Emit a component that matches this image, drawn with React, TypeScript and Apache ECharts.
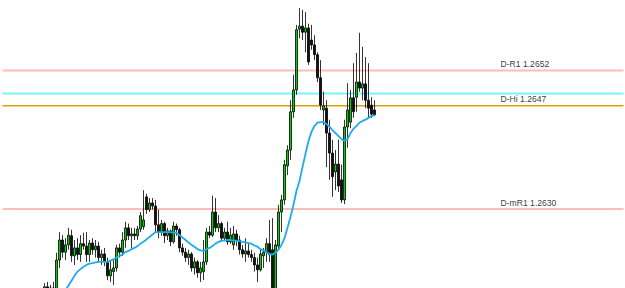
import { useEffect, useRef } from "react";
import * as echarts from "echarts";

// Prices are stored in pips above 1.2600 (e.g. 52.4 -> 1.26524)
const BASE_PRICE = 1.26;

const openPips = [
  16.0, 16.8, 16.1, 16.6, 16.0, 21.2, 24.5, 22.5, 23.7, 25.2,
  21.9, 23.2, 22.1, 23.9, 23.5, 22.1, 24.0, 22.9, 23.5, 21.6,
  22.2, 20.9, 18.6, 19.3, 19.9, 23.2, 22.5, 24.5, 26.5, 25.2,
  25.5, 25.2, 26.3, 26.7, 31.6, 29.5, 30.6, 30.1, 27.0, 25.8,
  27.2, 25.2, 26.0, 24.2, 26.8, 26.2, 23.2, 22.5, 21.6, 22.2,
  19.9, 20.9, 19.1, 19.3, 20.9, 25.8, 25.3, 29.1, 26.5, 27.2,
  24.8, 25.8, 24.2, 23.7, 25.5, 24.5, 22.9, 22.2, 22.7, 22.1,
  21.6, 20.4, 19.6, 21.9, 22.5, 23.9, 22.9, 16.3, 23.5, 29.1,
  31.1, 36.7, 39.3, 45.6, 49.2, 59.2, 59.7, 58.7, 59.4, 57.4,
  56.6, 55.0, 51.2, 45.9, 46.2, 42.1, 38.8, 35.7, 37.0, 34.4,
  31.1, 43.1, 43.9, 47.9, 48.0, 50.5, 49.5, 50.2, 47.5, 46.7, 45.9,
];
const highPips = [
  17.4, 17.6, 17.1, 17.6, 22.4, 25.8, 25.3, 24.8, 26.5, 26.2,
  24.5, 24.8, 25.3, 25.7, 25.8, 24.5, 24.8, 24.5, 24.2, 22.9,
  23.2, 21.6, 21.2, 21.2, 23.7, 23.9, 25.8, 27.5, 27.2, 26.5,
  26.5, 26.8, 29.1, 32.7, 32.1, 31.4, 31.4, 31.1, 29.5, 27.8,
  27.5, 26.5, 26.2, 27.5, 27.2, 26.5, 23.9, 23.2, 22.9, 22.5,
  21.6, 21.2, 20.9, 24.5, 26.5, 26.8, 31.8, 31.4, 28.6, 27.5,
  26.5, 27.5, 26.5, 26.8, 26.2, 25.2, 23.7, 24.8, 23.9, 22.9,
  22.4, 21.6, 22.9, 23.2, 24.8, 27.8, 28.1, 24.5, 30.3, 31.9,
  37.7, 40.1, 47.5, 51.7, 59.9, 62.7, 62.4, 62.0, 60.1, 59.9,
  58.2, 55.4, 54.1, 48.9, 47.5, 44.3, 41.0, 39.3, 41.0, 36.9,
  44.3, 50.3, 49.2, 53.6, 55.3, 58.6, 56.3, 54.6, 53.6, 48.0, 47.5,
];
const lowPips = [
  15.0, 15.5, 14.6, 15.3, 15.5, 19.9, 21.6, 21.2, 22.9, 20.9,
  20.4, 21.2, 20.9, 22.9, 20.9, 20.9, 22.1, 21.6, 20.9, 20.4,
  20.2, 17.9, 17.6, 17.1, 19.3, 21.6, 21.9, 23.2, 24.5, 23.2,
  24.5, 24.5, 25.8, 26.2, 28.8, 29.1, 29.5, 25.8, 24.8, 25.2,
  24.0, 24.5, 23.5, 23.9, 25.2, 22.5, 21.9, 20.9, 20.4, 19.3,
  18.8, 18.3, 17.6, 17.9, 20.4, 24.8, 25.0, 25.8, 25.8, 24.2,
  24.5, 23.7, 23.9, 22.9, 23.5, 22.1, 21.6, 20.9, 21.6, 20.9,
  19.3, 17.6, 19.3, 19.9, 20.9, 20.9, 14.6, 15.0, 22.9, 25.8,
  30.3, 35.2, 37.7, 44.6, 48.4, 57.7, 57.4, 55.4, 53.3, 55.8,
  54.1, 50.5, 45.9, 43.4, 36.5, 34.4, 31.6, 32.7, 32.4, 30.6,
  30.4, 39.7, 42.9, 44.6, 45.6, 48.9, 47.5, 46.2, 44.6, 44.6, 44.9,
];
const closePips = [
  16.8, 16.1, 16.6, 16.3, 21.2, 24.5, 22.5, 23.7, 25.3, 21.9,
  23.2, 22.1, 23.9, 23.5, 22.1, 24.0, 22.9, 23.5, 21.6, 22.2,
  20.9, 18.6, 19.6, 19.9, 23.2, 22.5, 24.5, 26.5, 25.2, 25.5,
  25.2, 26.3, 28.5, 27.8, 29.5, 30.6, 30.1, 27.0, 25.8, 27.2,
  25.2, 26.0, 24.2, 26.8, 26.2, 23.2, 22.5, 21.6, 22.2, 19.9,
  20.9, 19.1, 19.9, 20.9, 25.8, 25.3, 29.1, 26.5, 27.2, 24.8,
  25.8, 24.2, 25.3, 25.5, 24.5, 22.9, 22.2, 22.7, 22.1, 21.6,
  20.4, 19.6, 22.2, 22.5, 23.9, 22.1, 16.3, 23.7, 29.1, 31.1,
  36.9, 39.3, 45.6, 49.2, 59.1, 59.7, 58.7, 59.4, 53.8, 56.6,
  55.0, 51.2, 46.7, 46.6, 42.1, 38.8, 34.9, 37.0, 33.4, 31.1,
  43.1, 45.9, 47.9, 45.6, 50.5, 49.5, 50.2, 47.5, 46.2, 45.2, 45.1,
];
const maPips = [
  null, null, null, null, null, 15.0, 15.6, 16.3, 17.0, 17.8,
  18.6, 19.3, 19.7, 20.1, 20.4, 20.6, 20.7, 20.8, 20.9, 20.9,
  20.9, 20.9, 21.1, 21.3, 21.6, 21.9, 22.1, 22.5, 22.7, 23.0,
  23.2, 23.5, 23.9, 24.2, 24.6, 25.0, 25.4, 25.8, 25.8, 25.8,
  25.8, 25.8, 25.8, 25.7, 25.7, 25.3, 24.9, 24.5, 24.1, 23.7,
  23.4, 23.0, 22.8, 22.7, 23.0, 23.2, 23.5, 23.9, 24.2, 24.4,
  24.4, 24.5, 24.5, 24.4, 24.4, 24.3, 24.2, 24.1, 24.0, 23.9,
  23.6, 23.4, 23.0, 22.8, 22.5, 22.2, 22.1, 22.4, 22.9, 23.7,
  24.8, 26.5, 28.3, 30.3, 32.6, 34.2, 36.5, 38.7, 40.8, 42.3,
  43.3, 43.8, 43.9, 43.9, 43.6, 43.1, 42.6, 42.1, 41.6, 41.1,
  40.8, 41.1, 42.1, 42.8, 43.3, 43.8, 44.1, 44.3, 44.6, 44.9, 45.1,
];

// Horizontal levels
const levelPips = [52.4, 48.6, 46.6, 29.6];
const levelLabels = ["D-R1 1.2652", "", "D-Hi 1.2647", "D-mR1 1.2630"];

// Visible price window (pips)
const yMinPips = 16.6;
const yMaxPips = 64.0;

// Bars: empty slots before the first bar and total slots (chart shift on the right)
const LEAD_SLOTS = 14;
const TOTAL_SLOTS = 208;
const LABEL_SLOT = 166;

// Styles
const LEVEL_COLORS = ["#ffbcbc", "#7af4f8", "#dca000", "#ffbcbc"];
const LEVEL_WIDTHS = [2, 2, 1.5, 2];

const toPrice = (p: number) => Number((BASE_PRICE + p / 10000).toFixed(5));

export default function App() {
  const ref = useRef<HTMLDivElement>(null);

  useEffect(() => {
    if (!ref.current) return;
    const chart = echarts.init(ref.current, undefined, { renderer: "svg" });

    const categories = Array.from({ length: TOTAL_SLOTS }, (_, k) => String(k + 1));
    const candleData = categories.map((_, k) => {
      const i = k - LEAD_SLOTS;
      if (i < 0 || i >= openPips.length) return "-";
      return [toPrice(openPips[i]), toPrice(closePips[i]), toPrice(lowPips[i]), toPrice(highPips[i])];
    });
    const maData = categories.map((_, k) => {
      const i = k - LEAD_SLOTS;
      const v = i >= 0 && i < maPips.length ? maPips[i] : null;
      return v == null ? "-" : toPrice(v);
    });

    const levelSeries = levelPips.map((p, idx) => ({
      type: "line",
      name: "level" + idx,
      z: 1,
      silent: true,
      showSymbol: false,
      symbol: "none",
      lineStyle: { color: LEVEL_COLORS[idx], width: LEVEL_WIDTHS[idx] },
      data: categories.map(() => toPrice(p)),
    }));

    const labelData = levelPips
      .map((p, idx) => (levelLabels[idx] ? { value: [categories[LABEL_SLOT], toPrice(p)], name: levelLabels[idx] } : null))
      .filter(Boolean);

    chart.setOption({
      animation: false,
      backgroundColor: "#ffffff",
      grid: { left: 1, right: 0, top: 0, bottom: 0, containLabel: false },
      xAxis: {
        type: "category",
        data: categories,
        show: false,
        boundaryGap: true,
      },
      yAxis: {
        type: "value",
        min: toPrice(yMinPips),
        max: toPrice(yMaxPips),
        show: false,
        scale: true,
        splitLine: { show: false },
      },
      series: [
        ...levelSeries,
        {
          type: "candlestick",
          data: candleData,
          barWidth: 2.6,
          z: 3,
          itemStyle: {
            color: "#00d400",
            color0: "#111111",
            borderColor: "#000000",
            borderColor0: "#000000",
            borderWidth: 0.8,
          },
        },
        {
          type: "line",
          name: "ma",
          data: maData,
          z: 4,
          showSymbol: false,
          symbol: "none",
          smooth: false,
          connectNulls: false,
          lineStyle: { color: "#1eaaee", width: 1.8 },
        },
        {
          type: "scatter",
          name: "labels",
          data: labelData,
          z: 5,
          silent: true,
          symbol: "circle",
          symbolSize: 1,
          itemStyle: { color: "rgba(0,0,0,0)" },
          label: {
            show: true,
            position: "top",
            align: "left",
            distance: 1.5,
            formatter: (prm: any) => prm.name,
            color: "#000000",
            fontSize: 8.6,
            fontFamily: "'Liberation Sans', Arial, sans-serif",
          },
        },
      ],
    });

    return () => chart.dispose();
  }, []);

  return (
    <div
      ref={ref}
      style={{ position: "fixed", left: 0, top: 0, width: 625, height: 288, background: "#fff" }}
    />
  );
}
